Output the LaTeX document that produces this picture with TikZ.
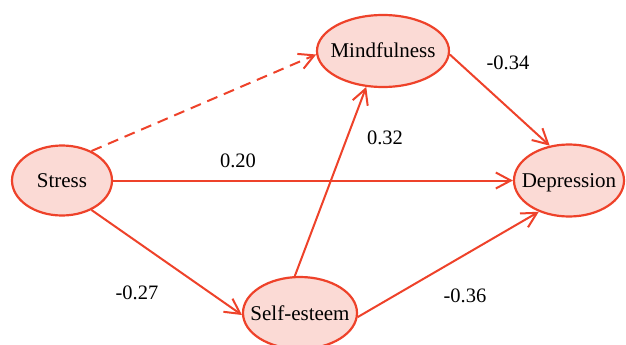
\documentclass[tikz,border=0pt]{standalone}
\usepackage{fontspec}
\setmainfont{Liberation Serif}
\usetikzlibrary{shapes.geometric,arrows.meta}
\definecolor{edgered}{RGB}{238,66,42}
\definecolor{fillpink}{RGB}{251,218,213}
\newcommand{\vtext}[1]{\raisebox{-7pt}[0pt][0pt]{\makebox[0pt]{#1}}}
\tikzset{
  var/.style={ellipse, draw=edgered, fill=fillpink, line width=2.2pt, inner sep=0pt,
    font=\fontsize{21}{25}\selectfont},
  path/.style={draw=edgered, line width=2pt,
    -{Straight Barb[length=15pt,width=16pt,line width=2pt]}},
  coef/.style={font=\fontsize{20.5}{24}\selectfont, inner sep=0pt}
}
\begin{document}
\begin{tikzpicture}[x=1pt,y=-1pt]
\useasboundingbox (0,0) rectangle (626,345);
\node[var, minimum width=100pt, minimum height=70pt] (stress) at (62,180.5) {\vtext{Stress}};
\node[var, minimum width=132pt, minimum height=72pt] (mind) at (383,51) {\vtext{Mindfulness}};
\node[var, minimum width=110pt, minimum height=72pt] (dep) at (569,180.5) {\vtext{Depression}};
\node[var, minimum width=114pt, minimum height=72pt] (self) at (300,313) {\vtext{Self-esteem}};
\draw[path, dash pattern=on 11pt off 7pt] (stress.45) -- (mind.183);
\draw[path] (stress.east) -- (dep.west);
\draw[path] (stress.-45) -- (self.182);
\draw[path] (self.98) -- (mind.-115);
\draw[path] (self.-4) -- (dep.-134);
\draw[path] (mind.-3) -- (dep.119);
\node[coef] (c1) at (238,161) {0.20};
\node[coef] (c2) at (508,63) {-0.34};
\node[coef] (c3) at (385,138) {0.32};
\node[coef] (c4) at (137,293) {-0.27};
\node[coef] (c5) at (465,296) {-0.36};
\end{tikzpicture}
\end{document}
